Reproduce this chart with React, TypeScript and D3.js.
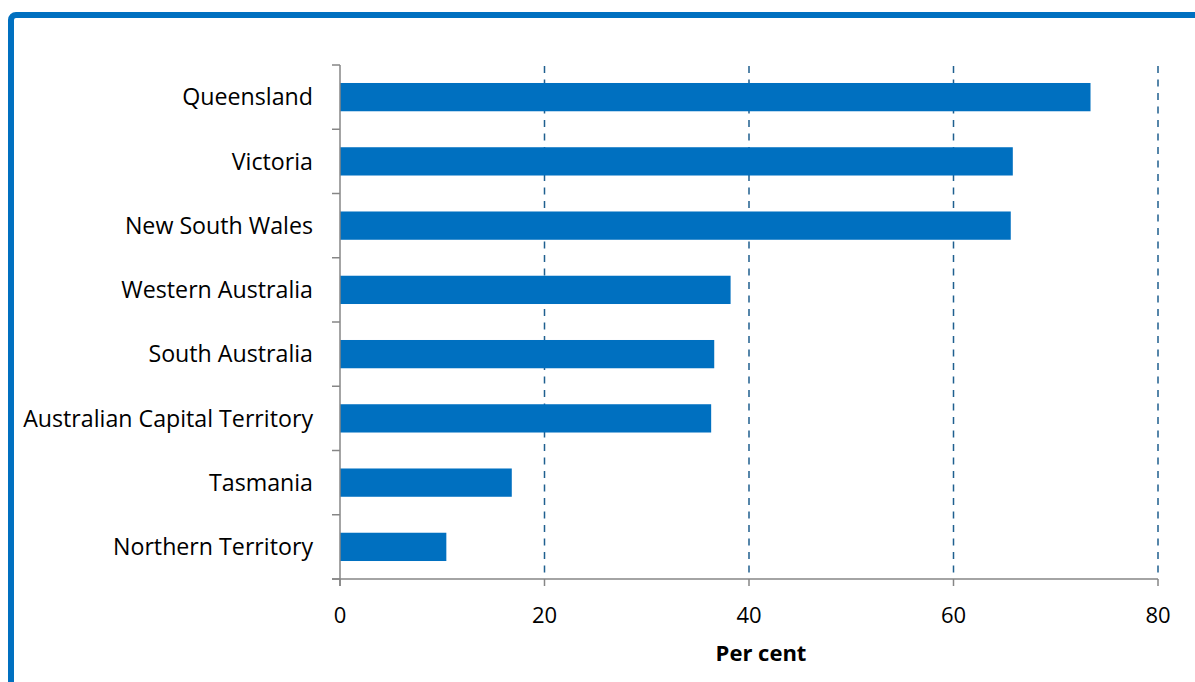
import React from "react";
import * as d3 from "d3";

const categories = [
  "Queensland",
  "Victoria",
  "New South Wales",
  "Western Australia",
  "South Australia",
  "Australian Capital Territory",
  "Tasmania",
  "Northern Territory",
];
const values = [73.4, 65.8, 65.6, 38.2, 36.6, 36.3, 16.8, 10.4];
const xTicks = [0, 20, 40, 60, 80];
const xTitle = "Per cent";

const W = 1195;
const H = 682;
const left = 340;
const right = 1158;
const top = 65;
const bottom = 579;
const font = "'Open Sans', sans-serif";

export default function App() {
  const x = d3.scaleLinear().domain([0, 80]).range([left, right]);
  const y = d3.scaleBand().domain(categories).range([top, bottom]).paddingInner(0.56).paddingOuter(0.28);
  const step = (bottom - top) / categories.length;
  const bounds = d3.range(categories.length + 1).map((i) => top + i * step);
  return (
    <svg width={W} height={H} style={{ position: "absolute", left: 0, top: 0 }}>
      <rect x={0} y={0} width={W} height={H} fill="#fff" />
      <rect x={11} y={15} width={W + 20} height={H + 20} rx={5} fill="none" stroke="#0070C0" strokeWidth={6} />
      {xTicks.filter((t) => t > 0).map((t) => (
        <line key={"g" + t} x1={x(t)} x2={x(t)} y1={top + 1} y2={bottom} stroke="#1F5F8F" strokeWidth={1.5} strokeDasharray="7,6.5" />
      ))}
      {categories.map((c, i) => (
        <rect key={c} x={x(0)} y={y(c)!} width={x(values[i]) - x(0)} height={y.bandwidth()} fill="#0070C0" />
      ))}
      <line x1={left} x2={left} y1={top} y2={bottom + 7} stroke="#868686" strokeWidth={1.5} />
      {bounds.map((b, i) => (
        <line key={"yt" + i} x1={left - 8} x2={left} y1={b} y2={b} stroke="#868686" strokeWidth={1.5} />
      ))}
      <line x1={left - 8} x2={right} y1={bottom} y2={bottom} stroke="#868686" strokeWidth={1.5} />
      {xTicks.map((t) => (
        <line key={"xt" + t} x1={x(t)} x2={x(t)} y1={bottom} y2={bottom + 7} stroke="#868686" strokeWidth={1.5} />
      ))}
      {xTicks.map((t) => (
        <text key={"xl" + t} x={x(t)} y={623} textAnchor="middle" fontFamily={font} fontSize={22} fill="#000">
          {t}
        </text>
      ))}
      {categories.map((c) => (
        <text key={"l" + c} x={313} y={y(c)! + y.bandwidth() / 2} dy="0.36em" textAnchor="end" fontFamily={font} fontSize={23.2} fill="#000">
          {c}
        </text>
      ))}
      <text x={761} y={661} textAnchor="middle" fontFamily={font} fontSize={22} fontWeight="bold" fill="#000">
        {xTitle}
      </text>
    </svg>
  );
}
